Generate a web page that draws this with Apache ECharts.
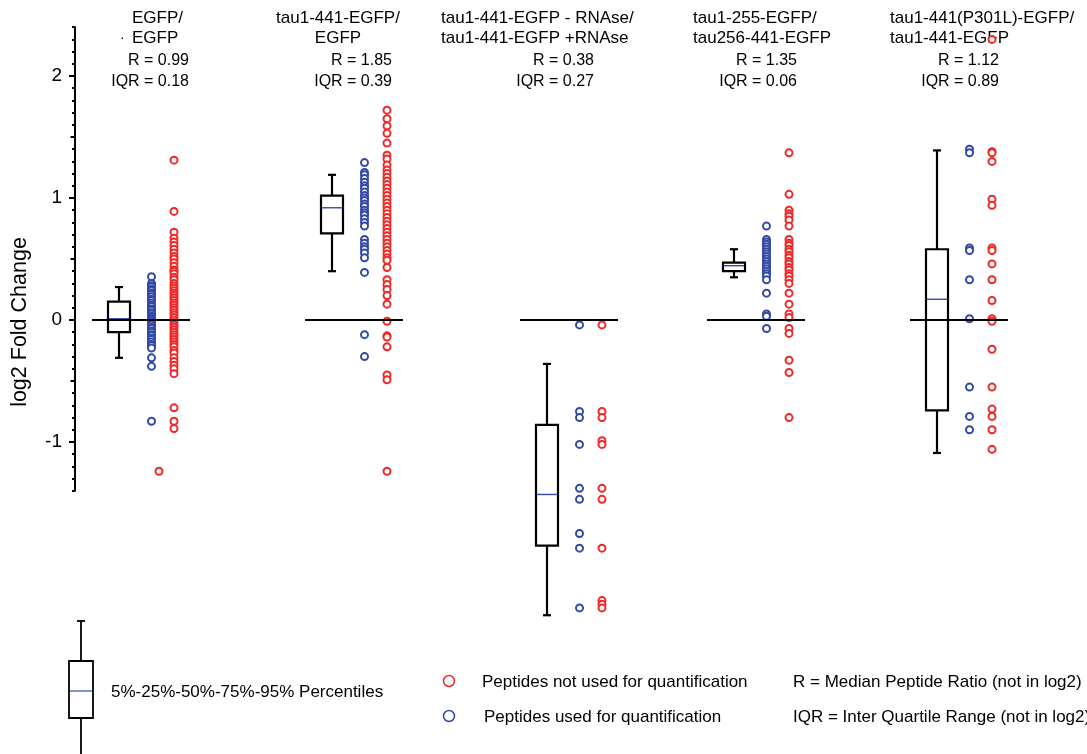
<!DOCTYPE html>
<html>
<head>
<meta charset="utf-8">
<title>log2 Fold Change</title>
<script src="https://cdn.jsdelivr.net/npm/echarts@6/dist/echarts.min.js"></script>
<style>
  html, body { margin: 0; padding: 0; background: #fff; }
  #chart { width: 1087px; height: 754px; }
</style>
</head>
<body>
<div id="chart"></div>
<script>
// group labels and summary numbers
const groupTitles = [
  ['EGFP/', 'EGFP'],
  ['tau1-441-EGFP/', 'EGFP'],
  ['tau1-441-EGFP - RNAse/', 'tau1-441-EGFP +RNAse'],
  ['tau1-255-EGFP/', 'tau256-441-EGFP'],
  ['tau1-441(P301L)-EGFP/', 'tau1-441-EGFP']
]
const ratioR = [0.99, 1.85, 0.38, 1.35, 1.12]
const ratioIQR = [0.18, 0.39, 0.27, 0.06, 0.89]

// 5% - 25% - 50% - 75% - 95% (log2)
const boxStats = [
  [-0.31, -0.10, 0.01, 0.15, 0.27],
  [0.40, 0.71, 0.92, 1.02, 1.19],
  [-2.42, -1.85, -1.43, -0.86, -0.36],
  [0.35, 0.40, 0.445, 0.47, 0.58],
  [-1.09, -0.74, 0.17, 0.58, 1.39]
]

// peptides used for quantification (blue)
const usedPeptides = [
  [0.355, 0.30, 0.28, 0.27, 0.25, 0.24, 0.22, 0.21, 0.19, 0.17, 0.16, 0.14, 0.12, 0.11, 0.09, 0.08,
    0.06, 0.05, 0.03, 0.02, 0.01, 0.0, -0.01, -0.03, -0.04, -0.06, -0.07, -0.09, -0.10, -0.12, -0.13,
    -0.15, -0.16, -0.18, -0.20, -0.21, -0.23, -0.31, -0.38, -0.83],
  [1.29, 1.21, 1.19, 1.16, 1.13, 1.10, 1.08, 1.05, 1.02, 1.00, 0.98, 0.95, 0.93, 0.90, 0.88, 0.86,
    0.83, 0.80, 0.77, 0.66, 0.63, 0.60, 0.58, 0.55, 0.51, 0.39, -0.12, -0.30],
  [-0.04, -0.75, -0.80, -1.02, -1.38, -1.47, -1.75, -1.87, -2.36],
  [0.77, 0.66, 0.64, 0.62, 0.60, 0.58, 0.56, 0.54, 0.52, 0.50, 0.48, 0.46, 0.44, 0.42, 0.40, 0.38,
    0.36, 0.33, 0.22, 0.05, 0.03, -0.07],
  [1.40, 1.37, 0.59, 0.57, 0.33, 0.01, -0.55, -0.79, -0.90]
]

// peptides not used for quantification (red)
const unusedPeptides = [
  [1.31, 0.89, 0.72, 0.67, 0.64, 0.61, 0.58, 0.55, 0.52, 0.50, 0.47, 0.44, 0.41, 0.40, 0.38, 0.35,
    0.33, 0.30, 0.28, 0.26, 0.24, 0.22, 0.20, 0.18, 0.16, 0.14, 0.12, 0.10, 0.08, 0.06, 0.04, 0.02,
    0.0, -0.02, -0.04, -0.06, -0.08, -0.10, -0.12, -0.14, -0.16, -0.18, -0.20, -0.22, -0.25, -0.27,
    -0.31, -0.34, -0.37, -0.40, -0.44, -0.72, -0.83, -0.89],
  [1.72, 1.65, 1.59, 1.53, 1.45, 1.35, 1.32, 1.27, 1.23, 1.20, 1.17, 1.14, 1.11, 1.08, 1.05, 1.02,
    0.99, 0.96, 0.93, 0.90, 0.87, 0.84, 0.81, 0.78, 0.75, 0.72, 0.69, 0.66, 0.63, 0.60, 0.57, 0.54,
    0.51, 0.49, 0.43, 0.33, 0.29, 0.25, 0.20, 0.13, -0.01, -0.13, -0.14, -0.22, -0.45, -0.49, -1.24],
  [-0.04, -0.75, -0.80, -0.99, -1.02, -1.38, -1.47, -1.87, -2.30, -2.33, -2.36],
  [1.37, 1.03, 0.90, 0.87, 0.85, 0.82, 0.77, 0.66, 0.63, 0.61, 0.58, 0.56, 0.53, 0.51, 0.48, 0.46,
    0.43, 0.41, 0.38, 0.36, 0.33, 0.30, 0.22, 0.13, 0.05, 0.02, -0.07, -0.11, -0.33, -0.43, -0.80],
  [2.30, 1.38, 1.37, 1.30, 0.99, 0.94, 0.59, 0.57, 0.46, 0.33, 0.16, 0.01, -0.01, -0.24, -0.55,
    -0.73, -0.79, -0.90, -1.06]
]
// one red peptide of group 1 sits off its column
const unusedStray = [[0, -1.24]]

const yTicks = [-1, 0, 1, 2]
const yHalfTicks = [-0.5, 0.5, 1.5]

// layout (x axis is in hidden layout units)
const groupPos = [1.19, 3.32, 5.47, 7.34, 9.37]
const usedOffset = 0.325
const unusedOffset = 0.55
const strayOffset = 0.40
const zeroFrom = -0.27
const zeroTo = 0.71
const titleAnchor = [[132, 'left'], [338, 'center'], [441, 'left'], [693, 'left'], [890, 'left']]
const statRight = [189, 392, 594, 797, 999]

const RED = '#f02828'
const BLUE = '#3349a6'
const FONT = '"Liberation Sans", Arial, sans-serif'

const xAxisBase = { type: 'value', min: 0.75, max: 10.87, show: false }
const noAxis = { show: false }

const textEl = (x, y, text, align, size) => ({
  type: 'text',
  x,
  y,
  style: { text, font: size + 'px ' + FONT, fill: '#000', align, verticalAlign: 'middle' }
})

const graphic = []
groupTitles.forEach((lines, i) => {
  const [ax, al] = titleAnchor[i]
  graphic.push(textEl(ax, 18, lines[0], al, 17))
  graphic.push(textEl(ax, 38, lines[1], al, 17))
  graphic.push(textEl(statRight[i], 61, 'R = ' + ratioR[i].toFixed(2), 'right', 16))
  graphic.push(textEl(statRight[i], 82, 'IQR = ' + ratioIQR[i].toFixed(2), 'right', 16))
})
graphic.push(textEl(120, 38, '·', 'left', 14))
graphic.push({
  type: 'text',
  x: 20,
  y: 322,
  rotation: Math.PI / 2,
  style: { text: 'log2 Fold Change', font: '21.5px ' + FONT, fill: '#000', align: 'center', verticalAlign: 'middle' }
})
// box legend glyph
const blk = { stroke: '#000', lineWidth: 1.8 }
graphic.push(
  { type: 'line', shape: { x1: 81, y1: 621, x2: 81, y2: 661 }, style: blk },
  { type: 'line', shape: { x1: 77, y1: 621, x2: 85, y2: 621 }, style: blk },
  { type: 'line', shape: { x1: 81, y1: 718, x2: 81, y2: 756 }, style: blk },
  { type: 'rect', shape: { x: 69, y: 661, width: 24, height: 57 }, style: { fill: '#fff', stroke: '#000', lineWidth: 1.8 } },
  { type: 'line', shape: { x1: 70, y1: 691, x2: 92, y2: 691 }, style: { stroke: BLUE, lineWidth: 1.2 } },
  textEl(111, 692, '5%-25%-50%-75%-95% Percentiles', 'left', 17),
  { type: 'circle', shape: { cx: 449, cy: 681, r: 5.5 }, style: { fill: 'none', stroke: RED, lineWidth: 1.5 } },
  { type: 'circle', shape: { cx: 449, cy: 716, r: 5.5 }, style: { fill: 'none', stroke: BLUE, lineWidth: 1.5 } },
  textEl(482, 682, 'Peptides not used for quantification', 'left', 17),
  textEl(484, 717, 'Peptides used for quantification', 'left', 17),
  textEl(793, 682, 'R = Median Peptide Ratio (not in log2)', 'left', 17),
  textEl(793, 717, 'IQR = Inter Quartile Range (not in log2)', 'left', 17)
)

const usedData = []
usedPeptides.forEach((vals, i) => vals.forEach(v => usedData.push([groupPos[i] + usedOffset, v])))
const unusedData = []
unusedPeptides.forEach((vals, i) => vals.forEach(v => unusedData.push([groupPos[i] + unusedOffset, v])))
unusedStray.forEach(([g, v]) => unusedData.push([groupPos[g] + strayOffset, v]))

const option = {
  backgroundColor: '#fff',
  animation: false,
  grid: [
    { left: 75, width: 1012, top: 27.2, height: 463.6 },
    { left: 75, width: 1012, top: 27.2, height: 610 }
  ],
  xAxis: [
    Object.assign({ gridIndex: 0 }, xAxisBase),
    Object.assign({ gridIndex: 1 }, xAxisBase)
  ],
  yAxis: [
    {
      gridIndex: 0,
      type: 'value',
      position: 'left',
      min: -1.4,
      max: 2.4,
      axisLine: { show: true, onZero: false, lineStyle: { color: '#000', width: 2 } },
      axisTick: { show: true, customValues: yTicks, length: 6, lineStyle: { color: '#000', width: 2 } },
      axisLabel: { customValues: yTicks, color: '#000', fontSize: 19, fontFamily: FONT, margin: 13 },
      splitLine: { show: false }
    },
    {
      gridIndex: 0,
      type: 'value',
      position: 'left',
      min: -1.4,
      max: 2.4,
      interval: 0.1,
      axisLine: { show: false, onZero: false },
      axisTick: { show: true, length: 3, lineStyle: { color: '#000', width: 2 } },
      axisLabel: { show: false },
      splitLine: { show: false }
    },
    {
      gridIndex: 0,
      type: 'value',
      position: 'left',
      min: -1.4,
      max: 2.4,
      axisLine: { show: false, onZero: false },
      axisTick: { show: true, customValues: yHalfTicks, length: 4.5, lineStyle: { color: '#000', width: 2 } },
      axisLabel: { show: false },
      splitLine: { show: false }
    },
    Object.assign({ gridIndex: 1, type: 'value', min: -2.6, max: 2.4 }, noAxis)
  ],
  graphic,
  series: [
    {
      type: 'custom',
      name: 'percentiles',
      xAxisIndex: 1,
      yAxisIndex: 3,
      z: 3,
      encode: { x: 0, y: [1, 2, 3, 4, 5] },
      data: boxStats.map((s, i) => [groupPos[i]].concat(s)),
      renderItem (params, api) {
        const x = api.value(0)
        const p = [1, 2, 3, 4, 5].map(d => api.coord([x, api.value(d)]))
        const cx = p[0][0]
        const hw = 11
        const cw = 4
        const ln = { stroke: '#000', lineWidth: 2.2 }
        return {
          type: 'group',
          children: [
            { type: 'line', shape: { x1: cx, y1: p[4][1], x2: cx, y2: p[3][1] }, style: ln },
            { type: 'line', shape: { x1: cx, y1: p[1][1], x2: cx, y2: p[0][1] }, style: ln },
            { type: 'line', shape: { x1: cx - cw, y1: p[4][1], x2: cx + cw, y2: p[4][1] }, style: ln },
            { type: 'line', shape: { x1: cx - cw, y1: p[0][1], x2: cx + cw, y2: p[0][1] }, style: ln },
            { type: 'rect', shape: { x: cx - hw, y: p[3][1], width: hw * 2, height: p[1][1] - p[3][1] }, style: { fill: '#fff', stroke: '#000', lineWidth: 2.2 } },
            { type: 'line', shape: { x1: cx - hw + 1, y1: p[2][1], x2: cx + hw - 1, y2: p[2][1] }, style: { stroke: BLUE, lineWidth: 1.4 } }
          ]
        }
      }
    },
    {
      type: 'scatter',
      name: 'Peptides used for quantification',
      xAxisIndex: 1,
      yAxisIndex: 3,
      symbol: 'emptyCircle',
      symbolSize: 7,
      itemStyle: { color: BLUE, borderColor: BLUE, borderWidth: 2, opacity: 1 },
      data: usedData
    },
    {
      type: 'scatter',
      name: 'Peptides not used for quantification',
      xAxisIndex: 1,
      yAxisIndex: 3,
      symbol: 'emptyCircle',
      symbolSize: 7,
      itemStyle: { color: RED, borderColor: RED, borderWidth: 2, opacity: 1 },
      data: unusedData
    },
    {
      type: 'custom',
      name: 'zero',
      xAxisIndex: 1,
      yAxisIndex: 3,
      z: 5,
      data: groupPos.map(x => [x, 0]),
      renderItem (params, api) {
        const a = api.coord([api.value(0) + zeroFrom, api.value(1)])
        const b = api.coord([api.value(0) + zeroTo, api.value(1)])
        return { type: 'line', shape: { x1: a[0], y1: a[1], x2: b[0], y2: b[1] }, style: { stroke: '#000', lineWidth: 2 } }
      }
    }
  ]
}

const myChart = echarts.init(document.getElementById('chart'))
myChart.setOption(option)
</script>
</body>
</html>
